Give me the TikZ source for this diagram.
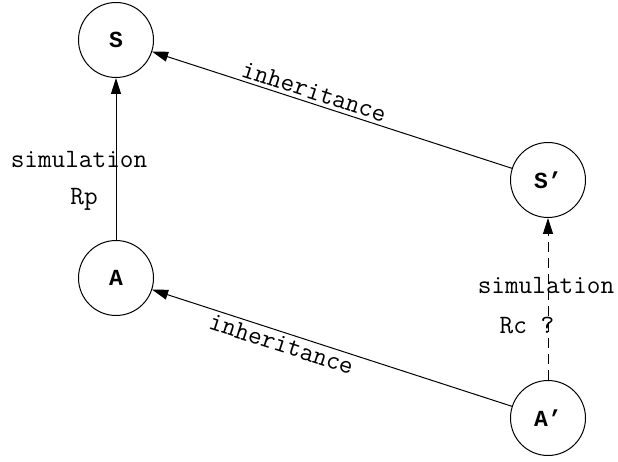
\documentclass[tikz,border=0pt]{standalone}
\usepackage{fontspec}
\newfontfamily\statefont{Liberation Mono}
\usetikzlibrary{arrows.meta}

\begin{document}
\begin{tikzpicture}[x=1pt,y=-1pt,line width=1pt,
    font=\ttfamily\fontsize{26.5}{30}\selectfont,
    state/.style={draw,circle,minimum size=75pt,inner sep=0pt,font=\statefont\fontsize{23}{27}\selectfont\bfseries},
    tip/.style={-{Triangle[length=16pt,width=10pt]}}]
 		\useasboundingbox (0,0) rectangle (618,462);
 		\node [state] (s) at (116,40) {S};
 		\node [state] (s2) at (548,180) {S’};
 		\node [state] (a) at (116,278) {A};
 		\node [state] (a2) at (548,418) {A’};
 		\draw [tip] (a) -- (s);
 		\draw [tip] (s2) -- (s) node [pos=0.56,sloped,above] {inheritance};
 		\draw [tip] (a2) -- (a) node [pos=0.63,sloped,below] {inheritance};
 		\draw [tip,dashed,dash pattern=on 10pt off 6pt] (a2) -- (s2);
 		\node [anchor=base] (simp) at (79,168) {simulation};
 		\node [anchor=base] (rp) at (84,205) {Rp};
 		\node [anchor=base] (simc) at (546,294) {simulation};
 		\node [anchor=base] (rc) at (527,333) {Rc ?};
 		\end{tikzpicture}
\end{document}
